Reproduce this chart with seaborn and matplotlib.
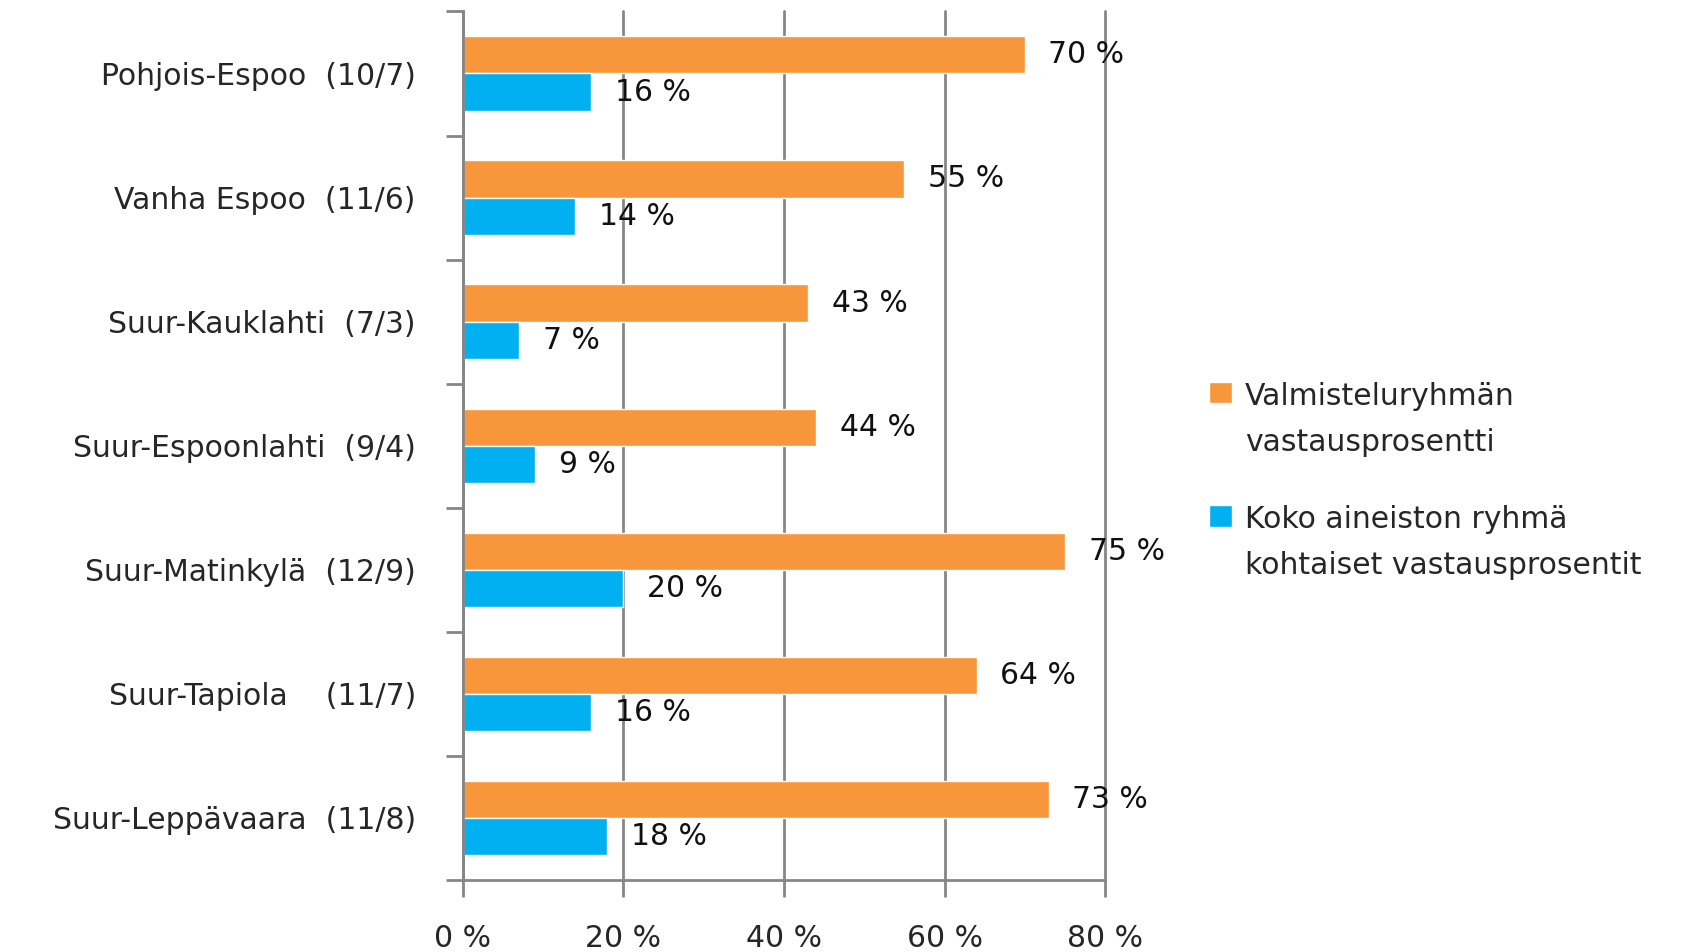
import numpy as np
import pandas as pd
import matplotlib
matplotlib.use("Agg")
import matplotlib.pyplot as plt
import seaborn as sns

regions = ["Pohjois-Espoo  (10/7)", "Vanha Espoo  (11/6)", "Suur-Kauklahti  (7/3)",
           "Suur-Espoonlahti  (9/4)", "Suur-Matinkylä  (12/9)", "Suur-Tapiola    (11/7)",
           "Suur-Leppävaara  (11/8)"]
series_names = ["Valmisteluryhmän\nvastausprosentti",
                "Koko aineiston ryhmä\nkohtaiset vastausprosentit"]
valmistelu = [70, 55, 43, 44, 75, 64, 73]
koko = [16, 14, 7, 9, 20, 16, 18]
x_ticks = [0, 20, 40, 60, 80]

colors = ["#F7963A", "#00B0F0"]
grid_col = "#868686"
FS = 21.5

df = pd.DataFrame({
    "region": regions * 2,
    "series": [series_names[0]] * len(regions) + [series_names[1]] * len(regions),
    "value": valmistelu + koko,
})

sns.set_theme(style="white")
plt.rcParams['font.family'] = ['DejaVu Sans']

fig = plt.figure(figsize=(17.04, 9.52), dpi=100)
ax = fig.add_axes([0.2717, 0.0756, 0.6485 - 0.2717, 0.988 - 0.0756])

sns.barplot(data=df, y="region", x="value", hue="series", orient="h",
            palette=colors, width=0.6, saturation=1, ax=ax, legend=True)

for c in ax.containers:
    ax.bar_label(c, labels=[f"{v:.0f} %" for v in c.datavalues], padding=17,
                 fontsize=FS, color="#111111")

ax.set_xlim(0, 80)
ax.set_ylim(6.5, -0.5)
ax.set_xticks(x_ticks)
ax.set_xticklabels([f"{t} %" for t in x_ticks], fontsize=FS)
ax.set_xlabel("")
ax.set_ylabel("")
ax.tick_params(axis="x", bottom=True, length=12, width=2, color=grid_col, pad=20,
               direction="out")
ax.tick_params(axis="y", which="major", left=True, length=0, pad=34, labelsize=FS)
ax.set_yticks(np.arange(-0.5, 7.0, 1.0), minor=True)
ax.tick_params(axis="y", which="minor", left=True, length=12, width=2, color=grid_col,
               direction="out")
ax.xaxis.grid(True, color=grid_col, linewidth=2)
for gl in ax.get_xgridlines():
    gl.set_clip_on(False)
ax.set_axisbelow(True)
for s in ["top", "right"]:
    ax.spines[s].set_visible(False)
for s in ["left", "bottom"]:
    ax.spines[s].set_color(grid_col)
    ax.spines[s].set_linewidth(2)

h, l = ax.get_legend_handles_labels()
ax.get_legend().remove()
leg = fig.legend(h, l, loc="center left", bbox_to_anchor=(0.7096, 0.495), frameon=False,
                 fontsize=FS, handlelength=0.75, handleheight=0.75, handletextpad=0.45,
                 labelspacing=1.6, borderpad=0, borderaxespad=0)
for t in leg.get_texts():
    t.set_linespacing(1.75)
try:
    for col in leg._legend_handle_box.get_children():
        for hp in col.get_children():
            hp.align = "top"
except Exception:
    pass

fig.savefig("out.png", dpi=100, facecolor="white")
